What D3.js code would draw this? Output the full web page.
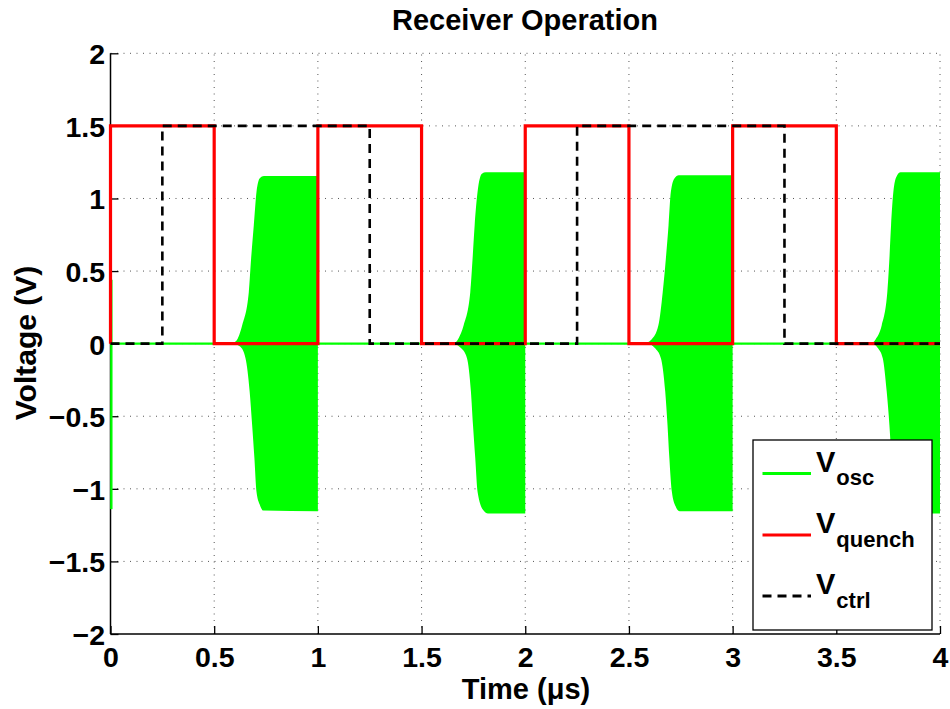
<!DOCTYPE html>
<html>
<head>
<meta charset="utf-8">
<script src="https://cdn.jsdelivr.net/npm/d3@7/dist/d3.min.js"></script>
<style>
  html, body { margin: 0; padding: 0; background: #fff; }
  svg text { font-family: "Liberation Sans", Arial, Helvetica, sans-serif; font-weight: bold; fill: #000; }
</style>
</head>
<body>
<svg id="chart" width="950" height="709"></svg>
<script>
// Axis ticks
const xTicks = [0, 0.5, 1, 1.5, 2, 2.5, 3, 3.5, 4];
const yTicks = [-2, -1.5, -1, -0.5, 0, 0.5, 1, 1.5, 2];
const xTickLabels = ["0", "0.5", "1", "1.5", "2", "2.5", "3", "3.5", "4"];
const yTickLabels = ["\u22122", "\u22121.5", "\u22121", "\u22120.5", "0", "0.5", "1", "1.5", "2"];

// Quench signal: [time (µs), volts], step-after
const quench = [[0, 0], [0, 1.5], [0.5, 0], [1, 1.5], [1.5, 0], [2, 1.5], [2.5, 0], [3, 1.5], [3.5, 0], [4, 0]];
// Control signal: [time (µs), volts], step-after
const ctrl = [[0, 0], [0.25, 1.5], [1.25, 0], [2.25, 1.5], [3.25, 0], [4, 0]];

// Oscillator baseline and start-up transient
const oscBaseline = [[0, 0], [4, 0]];
const oscStartup = [[0.004, 0.44], [0.004, -1.14]];

// Oscillator envelope (upper / lower) for each quench-off interval
const oscUpper1 = [[0.5,0],[0.578,0],[0.607,0.02],[0.635,0.126],[0.667,0.356],[0.678,0.585],[0.691,0.815],[0.704,1.045],[0.72,1.14],[0.74,1.155],[1.0,1.155]];
const oscLower1 = [[0.5,0],[0.593,0],[0.625,-0.02],[0.651,-0.1],[0.671,-0.33],[0.683,-0.56],[0.694,-0.79],[0.704,-1.02],[0.72,-1.11],[0.737,-1.15],[1.0,-1.155]];
const oscUpper2 = [[1.5,0],[1.653,0],[1.68,0.04],[1.703,0.126],[1.735,0.356],[1.746,0.585],[1.756,0.815],[1.77,1.045],[1.791,1.17],[1.81,1.18],[2.0,1.18]];
const oscLower2 = [[1.5,0],[1.65,0],[1.69,-0.03],[1.719,-0.1],[1.738,-0.33],[1.748,-0.56],[1.759,-0.79],[1.77,-1.02],[1.799,-1.15],[1.82,-1.17],[2.0,-1.17]];
const oscUpper3 = [[2.5,0],[2.569,0],[2.61,0.03],[2.642,0.126],[2.663,0.356],[2.678,0.585],[2.691,0.815],[2.702,1.045],[2.72,1.14],[2.74,1.16],[3.0,1.16]];
const oscLower3 = [[2.5,0],[2.59,0],[2.625,-0.03],[2.654,-0.1],[2.675,-0.33],[2.686,-0.56],[2.695,-0.79],[2.707,-1.02],[2.725,-1.12],[2.745,-1.155],[3.0,-1.155]];
const oscUpper4 = [[3.5,0],[3.663,0],[3.69,0.03],[3.719,0.126],[3.746,0.356],[3.756,0.585],[3.764,0.815],[3.775,1.045],[3.79,1.15],[3.81,1.18],[4.0,1.18]];
const oscLower4 = [[3.5,0],[3.675,0],[3.70,-0.03],[3.724,-0.1],[3.743,-0.33],[3.756,-0.56],[3.766,-0.79],[3.777,-1.02],[3.805,-1.15],[3.83,-1.17],[4.0,-1.17]];

const legendNames = ["osc", "quench", "ctrl"];

const GREEN = "#00ff00", RED = "#ff0000", BLACK = "#000000";

const svg = d3.select("#chart");
const x = d3.scaleLinear().domain([0, 4]).range([110.5, 940]);
const y = d3.scaleLinear().domain([-2, 2]).range([634, 53.3]);

// Grid (dotted)
const grid = svg.append("g").attr("stroke", "#555").attr("stroke-width", 1).attr("stroke-dasharray", "1,5.5");
grid.selectAll("line.gx").data(xTicks.slice(1)).enter().append("line")
  .attr("x1", d => x(d)).attr("x2", d => x(d)).attr("y1", y(-2)).attr("y2", y(2));
grid.selectAll("line.gy").data(yTicks.slice(1)).enter().append("line")
  .attr("x1", x(0)).attr("x2", x(4)).attr("y1", d => y(d)).attr("y2", d => y(d));

// Axes (left and bottom only, inward ticks)
const xAxis = d3.axisBottom(x).tickValues(xTicks).tickSize(-8).tickPadding(12).tickFormat((d, i) => xTickLabels[i]);
const yAxis = d3.axisLeft(y).tickValues(yTicks).tickSize(-8).tickPadding(6).tickFormat((d, i) => yTickLabels[i]);

const gx = svg.append("g").attr("transform", `translate(0,${y(-2)})`).call(xAxis);
const gy = svg.append("g").attr("transform", `translate(${x(0)},0)`).call(yAxis);
[gx, gy].forEach(g => {
  g.select(".domain").remove();
  g.selectAll(".tick line").attr("stroke", BLACK).attr("stroke-width", 1.3);
  g.selectAll(".tick text").style("font-size", "28.5px").style("font-family", "'Liberation Sans', Arial, sans-serif").style("font-weight", "bold").attr("fill", BLACK);
});
gx.selectAll(".tick text").attr("dy", null).attr("y", 33);
gy.selectAll(".tick text").attr("dy", null).attr("x", -5.5).attr("y", 10.5);
svg.append("line").attr("x1", x(0)).attr("x2", x(4)).attr("y1", y(-2)).attr("y2", y(-2))
  .attr("stroke", BLACK).attr("stroke-width", 1.5);
svg.append("line").attr("x1", x(0)).attr("x2", x(0)).attr("y1", y(-2)).attr("y2", y(2))
  .attr("stroke", BLACK).attr("stroke-width", 1.5);

// Oscillator envelopes
const plot = svg.append("g");
const upArea = d3.area().x(d => x(d[0])).y0(y(0)).y1(d => y(d[1])).curve(d3.curveMonotoneX);
[[oscUpper1, oscLower1], [oscUpper2, oscLower2], [oscUpper3, oscLower3], [oscUpper4, oscLower4]].forEach(([u, l]) => {
  plot.append("path").attr("d", upArea(u)).attr("fill", GREEN);
  plot.append("path").attr("d", upArea(l)).attr("fill", GREEN);
});

const line = d3.line().x(d => x(d[0])).y(d => y(d[1]));
const stepLine = d3.line().x(d => x(d[0])).y(d => y(d[1])).curve(d3.curveStepAfter);

plot.append("path").attr("d", line(oscBaseline)).attr("fill", "none").attr("stroke", GREEN).attr("stroke-width", 2.2);
plot.append("path").attr("d", line(oscStartup)).attr("fill", "none").attr("stroke", GREEN).attr("stroke-width", 2.4);

plot.append("path").attr("d", stepLine(quench)).attr("fill", "none").attr("stroke", RED)
  .attr("stroke-width", 3.2).attr("stroke-linejoin", "miter");
plot.append("path").attr("d", stepLine(ctrl)).attr("fill", "none").attr("stroke", BLACK)
  .attr("stroke-width", 2.6).attr("stroke-dasharray", "9,6");

// Title and axis labels
svg.append("text").attr("x", 525).attr("y", 30).attr("text-anchor", "middle")
  .style("font-size", "29px").text("Receiver Operation");
svg.append("text").attr("x", 526).attr("y", 699).attr("text-anchor", "middle")
  .style("font-size", "29px").text("Time (\u03bcs)");
svg.append("text").attr("transform", "translate(36,343) rotate(-90)").attr("text-anchor", "middle")
  .style("font-size", "30px").text("Voltage (V)");

// Legend
const lg = svg.append("g");
lg.append("rect").attr("x", 753).attr("y", 440).attr("width", 179).attr("height", 190)
  .attr("fill", "#fff").attr("stroke", BLACK).attr("stroke-width", 1.3);
const legendStyles = [
  { color: GREEN, width: 2.8, dash: null, cy: 473.5 },
  { color: RED, width: 3.2, dash: null, cy: 535 },
  { color: BLACK, width: 2.8, dash: "9,6", cy: 596 }
];
legendNames.forEach((name, i) => {
  const s = legendStyles[i];
  lg.append("line").attr("x1", 762.5).attr("x2", 811).attr("y1", s.cy).attr("y2", s.cy)
    .attr("stroke", s.color).attr("stroke-width", s.width).attr("stroke-dasharray", s.dash);
  const t = lg.append("text").attr("x", 816).attr("y", s.cy - 2).style("font-size", "29px");
  t.append("tspan").text("V");
  t.append("tspan").attr("dy", 13.5).attr("dx", 1).style("font-size", "22px").text(name);
});
</script>
</body>
</html>
